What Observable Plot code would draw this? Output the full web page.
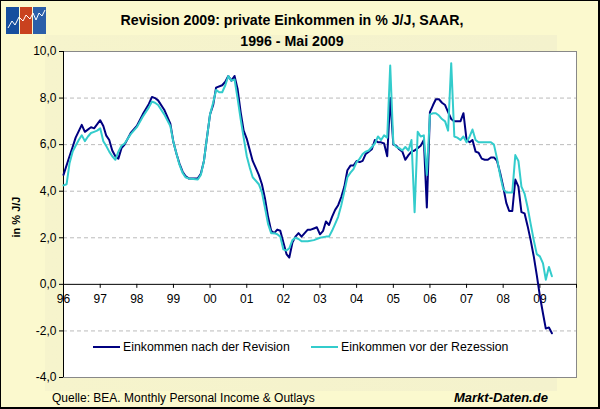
<!DOCTYPE html>
<html>
<head>
<meta charset="utf-8">
<script src="https://cdn.jsdelivr.net/npm/d3@7"></script>
<script src="https://cdn.jsdelivr.net/npm/@observablehq/plot@0.6"></script>
<style>
  html, body { margin: 0; padding: 0; background: #fff; }
  #chart {
    position: relative; width: 600px; height: 409px; overflow: hidden;
    background: #FBF9CE;
    font-family: Arial, "Liberation Sans", sans-serif; color: #000;
  }
  #panel {
    position: absolute; left: 45px; top: 35px; width: 512px; height: 356px;
    background: linear-gradient(90deg, #F6F4CC 0%, #F4F2CD 100%);
  }
  #plot { position: absolute; left: 0; top: 0; }
  .title {
    position: absolute; left: 0; width: 584px; text-align: center;
    font-weight: bold; font-size: 14.2px; white-space: nowrap;
  }
  .ylab {
    position: absolute; left: 16px; top: 217px; font-weight: bold; font-size: 11px;
    transform: translate(-50%, -50%) rotate(-90deg); white-space: nowrap;
  }
  .leg-line { position: absolute; height: 2px; width: 27px; }
  .leg-text { position: absolute; font-size: 12.3px; white-space: nowrap; line-height: 14px; }
  .foot { position: absolute; font-size: 12px; white-space: nowrap; line-height: 14px; }
  .brand { position: absolute; font-size: 13px; font-weight: bold; font-style: italic; white-space: nowrap; line-height: 16px; }
  #border {
    position: absolute; left: 0; top: 0; width: 600px; height: 409px; box-sizing: border-box;
    border-style: solid; border-color: #000; border-width: 1px 2px 2px 1px; pointer-events: none;
  }
</style>
</head>
<body>
<div id="chart">
  <div id="panel"></div>
  <svg style="position:absolute;left:6px;top:7px" width="40" height="27" viewBox="0 0 40 27">
    <rect x="0" y="0" width="13" height="27" fill="#164E9E"/>
    <rect x="14" y="0" width="12" height="27" fill="#C9421F"/>
    <rect x="27" y="0" width="13" height="27" fill="#2B5FA9"/>
    <polyline points="2,21 6,14 9,18 13,10 17,14 20,8 24,12 27,6 30,13 33,6 36,9 39,3" fill="none" stroke="#fff" stroke-width="1"/>
  </svg>
  <div class="title" style="top:12px">Revision 2009: private Einkommen in % J/J, SAAR,</div>
  <div class="title" style="top:33px">1996 - Mai 2009</div>
  <div id="plot"></div>
  <div class="ylab">in % J/J</div>
  <div class="leg-line" style="left:93px;top:346px;background:#000080"></div>
  <div class="leg-text" style="left:123px;top:340px">Einkommen nach der Revision</div>
  <div class="leg-line" style="left:311px;top:346px;background:#33CCCC"></div>
  <div class="leg-text" style="left:341px;top:340px">Einkommen vor der Rezession</div>
  <div class="foot" style="left:52px;top:391px">Quelle: BEA. Monthly Personal Income &amp; Outlays</div>
  <div class="brand" style="left:454px;top:390px">Markt-Daten.de</div>
  <div id="border"></div>
</div>
<script>
// Personal income, % change year over year (SAAR), after the 2009 revision
const revDates = [
  "1996-01","1996-03","1996-04","1996-05","1996-07","1996-08","1996-10","1996-11",
  "1997-01","1997-02","1997-03","1997-04","1997-05","1997-06","1997-07","1997-08","1997-09","1997-11",
  "1998-01","1998-03","1998-05","1998-06","1998-07","1998-08","1998-10","1998-12",
  "1999-01","1999-02","1999-03","1999-04","1999-05","1999-06","1999-09","1999-10","1999-11","1999-12",
  "2000-01","2000-02","2000-03","2000-05","2000-06","2000-07","2000-08","2000-09","2000-10","2000-11","2000-12",
  "2001-01","2001-02","2001-03","2001-04","2001-05","2001-06","2001-07","2001-08","2001-09","2001-10","2001-11","2001-12",
  "2002-01","2002-02","2002-03","2002-04","2002-05","2002-06","2002-07","2002-08","2002-09","2002-10","2002-11","2002-12",
  "2003-01","2003-02","2003-03","2003-04","2003-05","2003-06","2003-07","2003-08","2003-09","2003-10","2003-11","2003-12",
  "2004-01","2004-02","2004-03","2004-04","2004-05","2004-06","2004-07","2004-08","2004-09","2004-10","2004-11","2004-12",
  "2005-01","2005-02","2005-03","2005-04","2005-05","2005-06","2005-07","2005-08","2005-09","2005-10","2005-11","2005-12",
  "2006-01","2006-02","2006-03","2006-04","2006-05","2006-06","2006-07","2006-08","2006-09","2006-10","2006-11","2006-12",
  "2007-01","2007-02","2007-03","2007-04","2007-05","2007-06","2007-07","2007-08","2007-09","2007-10","2007-11","2007-12",
  "2008-01","2008-02","2008-03","2008-04","2008-05","2008-06","2008-07","2008-08","2008-09","2008-10","2008-11","2008-12",
  "2009-01","2009-02","2009-03","2009-04","2009-05"
];
const revValues = [
  4.7, 5.5, 5.9, 6.3, 6.85, 6.55, 6.75, 6.7,
  7.05, 6.8, 6.4, 6.2, 5.75, 5.5, 5.4, 5.85, 6.0, 6.5,
  6.8, 7.3, 7.75, 8.05, 8.0, 7.9, 7.5, 6.9,
  6.1, 5.6, 5.2, 4.85, 4.65, 4.55, 4.55, 4.75, 5.3, 6.3,
  7.3, 7.7, 8.45, 8.55, 8.7, 8.95, 8.75, 8.95, 8.4, 7.4, 6.6,
  6.25, 5.75, 5.3, 5.0, 4.7, 4.3, 3.7, 2.9, 2.3, 2.2, 2.35, 2.3,
  1.8, 1.3, 1.15, 1.8, 2.05, 2.2, 2.05, 2.2, 2.35, 2.35, 2.4, 2.45,
  2.15, 2.3, 2.7, 2.55, 2.9, 3.2, 3.4, 3.75, 4.2, 4.9, 5.1, 5.1,
  5.3, 5.25, 5.3, 5.6, 5.7, 5.8, 6.2, 6.1, 6.1, 6.05, 5.5, 8.0,
  6.0, 5.95, 5.8, 5.7, 5.35, 5.55, 5.7, 5.75, 5.85, 5.95, 6.2, 3.3,
  7.4, 7.7, 7.95, 7.95, 7.8, 7.7, 7.4, 7.1, 7.0, 7.0, 7.0, 7.35,
  6.2, 6.1, 6.2, 5.7, 5.65, 5.4, 5.35, 5.35, 5.45, 5.45, 5.3, 4.8,
  4.2, 3.5, 3.15, 3.15, 4.5, 4.2, 3.1, 3.05, 2.5, 1.9, 1.2, 0.4,
  -0.5, -1.25, -1.9, -1.85, -2.1
];

// Personal income before the revision (pre-recession vintage)
const preDates = [
  "1996-01","1996-02","1996-03","1996-04","1996-05","1996-06","1996-07","1996-08","1996-09","1996-10","1996-11","1996-12",
  "1997-01","1997-02","1997-03","1997-04","1997-05","1997-06","1997-07","1997-08","1997-09","1997-11",
  "1998-01","1998-03","1998-05","1998-06","1998-07","1998-08","1998-10","1998-12",
  "1999-01","1999-02","1999-03","1999-04","1999-05","1999-06","1999-09","1999-10","1999-11","1999-12",
  "2000-01","2000-02","2000-03","2000-04","2000-05","2000-06","2000-07","2000-08","2000-09","2000-10","2000-11","2000-12",
  "2001-01","2001-02","2001-03","2001-04","2001-05","2001-06","2001-07","2001-08","2001-09","2001-10","2001-11","2001-12",
  "2002-01","2002-02","2002-03","2002-04","2002-05","2002-06","2002-07","2002-09","2002-11",
  "2003-01","2003-03","2003-04","2003-05","2003-06","2003-07","2003-08","2003-09","2003-10","2003-11","2003-12",
  "2004-01","2004-02","2004-03","2004-04","2004-05","2004-06","2004-07","2004-08","2004-09","2004-10","2004-11","2004-12",
  "2005-01","2005-02","2005-03","2005-04","2005-05","2005-06","2005-07","2005-08","2005-09","2005-10","2005-11","2005-12",
  "2006-01","2006-02","2006-03","2006-04","2006-05","2006-06","2006-07","2006-08","2006-09","2006-10","2006-11","2006-12",
  "2007-01","2007-02","2007-03","2007-04","2007-05","2007-06","2007-07","2007-08","2007-09","2007-10","2007-11","2007-12",
  "2008-01","2008-02","2008-03","2008-04","2008-05","2008-06","2008-07","2008-08","2008-09","2008-10","2008-11","2008-12",
  "2009-01","2009-02","2009-03","2009-04","2009-05"
];
const preValues = [
  4.25, 4.3, 5.2, 5.7, 5.95, 6.2, 6.4, 6.15, 6.35, 6.5, 6.55, 6.6,
  6.7, 6.15, 5.95, 5.7, 5.5, 5.35, 5.7, 5.95, 6.05, 6.45,
  6.75, 7.2, 7.6, 7.85, 7.8, 7.7, 7.3, 6.8,
  6.1, 5.6, 5.15, 4.8, 4.6, 4.55, 4.5, 4.7, 5.3, 6.3,
  7.3, 7.8, 8.35, 8.25, 8.25, 8.55, 8.95, 8.75, 8.8, 8.0, 7.1, 6.3,
  5.5, 5.0, 4.6, 4.45, 4.3, 3.95, 3.3, 2.6, 2.2, 2.2, 2.15, 2.05,
  1.5, 1.45, 1.55, 1.9, 2.0, 1.95, 1.85, 1.85, 1.9,
  2.0, 2.05, 2.05, 2.3, 2.6, 2.9, 3.4, 4.0, 4.6, 4.8, 4.95,
  5.25, 5.4, 5.6, 5.7, 5.75, 5.9, 6.05, 6.35, 6.2, 6.4, 6.3, 9.4,
  6.05, 5.9, 5.85, 5.75, 5.9, 5.75, 6.2, 3.1, 6.55, 6.35, 6.4, 4.7,
  7.3, 7.35, 7.35, 7.25, 7.1, 7.0, 6.6, 9.5, 6.35, 6.3, 6.2, 6.35,
  6.1, 6.35, 6.65, 6.2, 6.1, 6.1, 6.1, 6.1, 6.1, 6.0, 5.4, 4.7,
  4.1, 3.95, 3.95, 3.95, 5.55, 5.3, 4.2, 3.9, 3.3, 2.6, 1.9, 1.3,
  1.2, 0.9, 0.2, 0.75, 0.35
];

const tickYears = [1996, 1997, 1998, 1999, 2000, 2001, 2002, 2003, 2004, 2005, 2006, 2007, 2008, 2009, 2010];
const yearLabels = ["96", "97", "98", "99", "00", "01", "02", "03", "04", "05", "06", "07", "08", "09"];
const yTicks = [-4, -2, 0, 2, 4, 6, 8, 10];
const gridLevels = [-2, 2, 4, 6, 8];

const parse = d3.utcParse("%Y-%m");
const revision = revDates.map((d, i) => ({date: parse(d), value: revValues[i]}));
const prior = preDates.map((d, i) => ({date: parse(d), value: preValues[i]}));
const tickDates = tickYears.map(y => new Date(Date.UTC(y, 0, 1)));
const labels = yearLabels.map((t, i) => ({date: tickDates[i], text: t}));

const chart = Plot.plot({
  width: 600,
  height: 409,
  marginLeft: 63,
  marginRight: 24,
  marginTop: 51,
  marginBottom: 32,
  style: {background: "transparent", fontFamily: "Arial, 'Liberation Sans', sans-serif", fontSize: "12px", overflow: "visible"},
  x: {type: "utc", domain: [tickDates[0], tickDates[tickDates.length - 1]], axis: null},
  y: {domain: [-4, 10], axis: null},
  marks: [
    Plot.frame({fill: "white", stroke: "#888888"}),
    Plot.ruleY(gridLevels, {stroke: "#BBBBBB", strokeDasharray: "4,3"}),
    Plot.ruleY([0], {stroke: "#000"}),
    Plot.ruleX(tickDates, {x: d => d, y1: 0, y2: 0, insetBottom: -4, stroke: "#000"}),
    Plot.text(labels, {x: "date", y: 0, text: "text", dy: 15, fontSize: 12, fill: "#000"}),
    Plot.ruleX([tickDates[0]], {stroke: "#000"}),
    Plot.axisY({
      ticks: yTicks,
      tickFormat: d => d.toFixed(1).replace(".", ","),
      tickSize: 4,
      tickPadding: 3,
      fontSize: 12,
      label: null,
      color: "#000"
    }),
    Plot.line(revision, {x: "date", y: "value", stroke: "#000080", strokeWidth: 2}),
    Plot.line(prior, {x: "date", y: "value", stroke: "#33CCCC", strokeWidth: 2})
  ]
});
document.getElementById("plot").appendChild(chart);
</script>
</body>
</html>
